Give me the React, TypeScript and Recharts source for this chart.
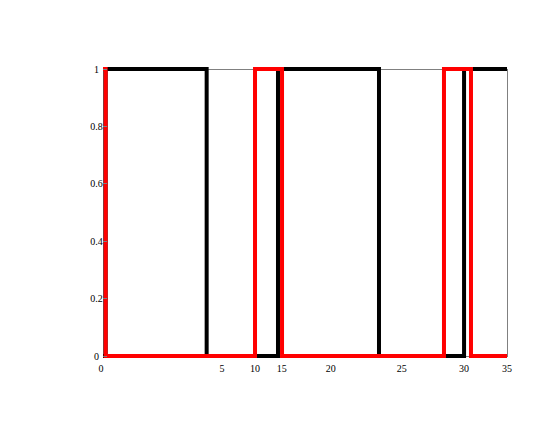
import type { ReactNode } from 'react';
import { LineChart, Line, XAxis, YAxis, ReferenceArea } from 'recharts';

if (typeof document !== 'undefined') {
  document.body.style.margin = '0';
}

// switching instants (axis units)
const blackTimes = [0, 0.23, 8.98, 15.16, 23.91, 31.28, 35];
const blackValues = [0, 1, 0, 1, 0, 1, 1];
const redTimes = [0, 0.23, 13.17, 15.51, 29.54, 31.88, 35];
const redValues = [1, 0, 1, 0, 1, 0, 0];

// the x labels in the source sit at uneven places
const xTickPositions = [0, 10.31, 13.17, 15.48, 19.73, 25.88, 31.27, 35];
const xTickLabels = ['0', '5', '10', '15', '20', '25', '30', '35'];
const yTicks = [0, 0.2, 0.4, 0.6, 0.8, 1];
const yTickLabels = ['0', '0.2', '0.4', '0.6', '0.8', '1'];

const blackData = blackTimes.map((x, i) => ({ x, y: blackValues[i] }));
const redData = redTimes.map((x, i) => ({ x, y: redValues[i] }));

const FONT = '"Liberation Serif", "DejaVu Serif", serif';
const FRAME = '#808080';

// tickSize/tickMargin are 0 below, so x/y is right on the axis line
const renderXTick = (props: any): ReactNode => {
  const { x, y, index } = props;
  return (
    <text key={`xt-${index}`} x={index === 0 ? x - 2 : x} y={y + 12} textAnchor="middle" dominantBaseline="central" fontFamily={FONT} fontSize={10} fill="#000">
      {xTickLabels[index]}
    </text>
  );
};

const renderLeftTick = (props: any): ReactNode => {
  const { x, y, index } = props;
  return (
    <g key={`lt-${index}`}>
      <line x1={x} x2={x + 4} y1={y} y2={y} stroke={FRAME} shapeRendering="crispEdges" />
      <text x={x - 6.5} y={y} textAnchor="middle" dominantBaseline="central" fontFamily={FONT} fontSize={10} fill="#000">
        {yTickLabels[index]}
      </text>
    </g>
  );
};

const renderRightTick = (props: any): ReactNode => {
  const { x, y, index } = props;
  return <line key={`rt-${index}`} x1={x - 4} x2={x} y1={y} y2={y} stroke={FRAME} shapeRendering="crispEdges" />;
};

export default function App(): ReactNode {
  return (
    <div style={{ width: 545, height: 421, background: '#fff' }}>
      <LineChart width={545} height={421} margin={{ top: 69, right: 28, bottom: 45, left: 73 }}>
        <XAxis
          dataKey="x"
          type="number"
          domain={[0, 35]}
          ticks={xTickPositions}
          interval={0}
          height={20}
          tickSize={0}
          tickMargin={0}
          tickLine={false}
          axisLine={false}
          tick={renderXTick}
        />
        <YAxis
          yAxisId="left"
          type="number"
          domain={[0, 1]}
          ticks={yTicks}
          interval={0}
          width={30}
          tickSize={0}
          tickMargin={0}
          tickLine={false}
          axisLine={false}
          tick={renderLeftTick}
        />
        <YAxis
          yAxisId="right"
          orientation="right"
          type="number"
          domain={[0, 1]}
          ticks={yTicks}
          interval={0}
          width={10}
          tickSize={0}
          tickMargin={0}
          tickLine={false}
          axisLine={false}
          tick={renderRightTick}
        />
        <ReferenceArea
          yAxisId="left"
          x1={0}
          x2={35}
          y1={0}
          y2={1}
          fill="none"
          stroke={FRAME}
          strokeWidth={1}
          strokeOpacity={1}
          shapeRendering="crispEdges"
          ifOverflow="visible"
        />
        <Line
          yAxisId="left"
          data={blackData}
          dataKey="y"
          type="stepAfter"
          stroke="#000"
          strokeWidth={4}
          dot={false}
          isAnimationActive={false}
        />
        <Line
          yAxisId="left"
          data={redData}
          dataKey="y"
          type="stepAfter"
          stroke="#ff0000"
          strokeWidth={4}
          dot={false}
          isAnimationActive={false}
        />
      </LineChart>
    </div>
  );
}
